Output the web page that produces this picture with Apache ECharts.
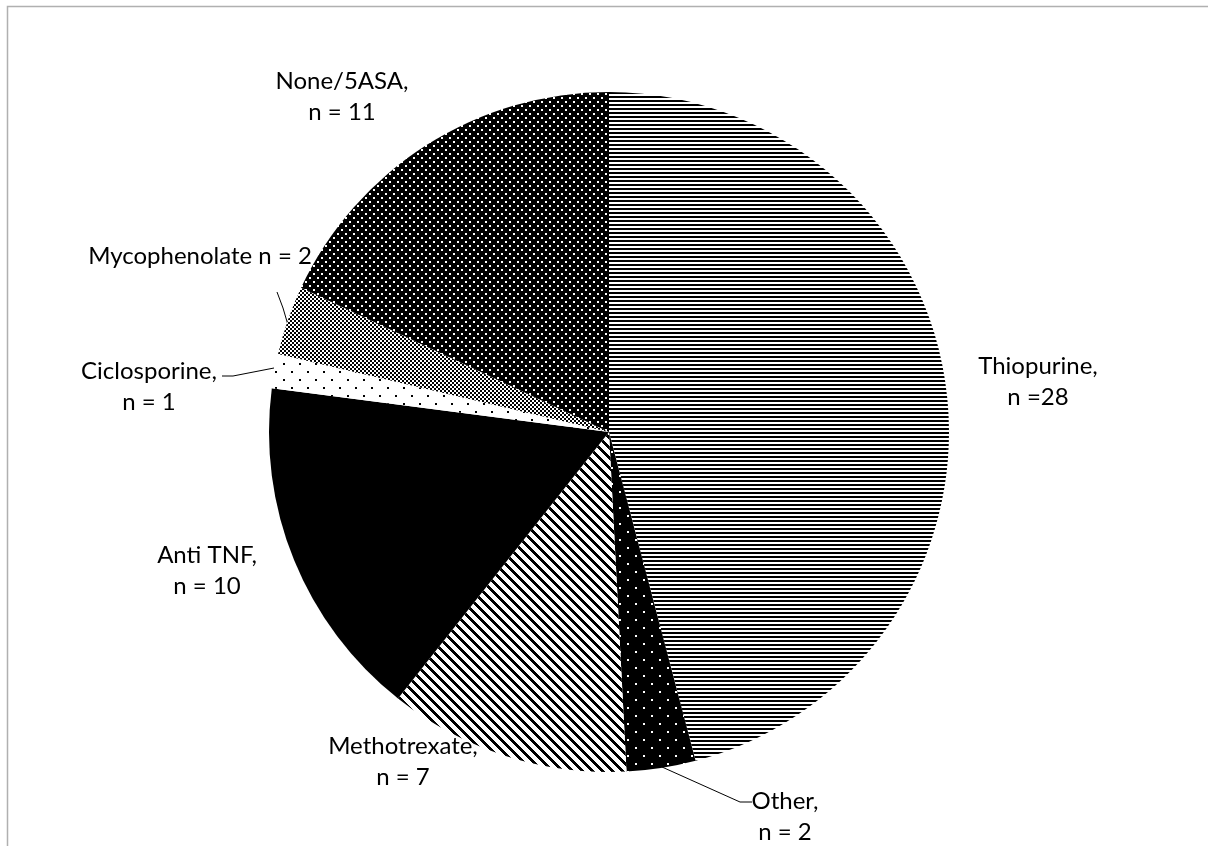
<!DOCTYPE html>
<html><head><meta charset="utf-8">
<script src="https://cdn.jsdelivr.net/npm/echarts@6/dist/echarts.min.js"></script>
<style>html,body{margin:0;padding:0;background:#fff}#c{width:1208px;height:846px}</style>
</head><body><div id="c"></div>
<script>
// ---- data ----
const categories = ['Thiopurine', 'Other', 'Methotrexate', 'Anti TNF', 'Ciclosporine', 'Mycophenolate', 'None/5ASA'];
const values = [28, 2, 7, 10, 1, 2, 11];
const labelTexts = ['Thiopurine,\nn =28', 'Other,\nn = 2', 'Methotrexate,\nn = 7', 'Anti TNF,\nn = 10', 'Ciclosporine,\nn = 1', 'Mycophenolate n = 2', 'None/5ASA,\nn = 11'];

// ---- label placement (layout, not data) ----
const labelPos = [[1038, 382], [785, 817], [403, 762], [207, 571], [149, 387], [200, 256], [342, 97]];
const leaderLines = {
  1: [[662, 767], [740, 802], [752, 802]],
  4: [[222, 376], [233, 376], [274, 368]],
  5: [[277, 292], [283, 308], [288, 325]]
};

// ---- patterns ----
function mk(w, h, draw) {
  const c = document.createElement('canvas'); c.width = w; c.height = h;
  const g = c.getContext('2d'); draw(g, w, h); return c;
}
const patHoriz = mk(4, 4, (g) => { g.fillStyle = '#fff'; g.fillRect(0, 0, 4, 4); g.fillStyle = '#000'; g.fillRect(0, 0, 4, 2); });
const patOther = mk(16, 16, (g) => { g.fillStyle = '#000'; g.fillRect(0, 0, 16, 16); g.fillStyle = '#fff'; g.fillRect(3, 3, 2, 2); g.fillRect(11, 11, 2, 2); });
const patDiag = mk(10, 10, (g) => {
  const id = g.createImageData(10, 10);
  for (let y = 0; y < 10; y++) for (let x = 0; x < 10; x++) {
    const k = ((x - y) % 10 + 10) % 10; const v = k < 4 ? 0 : 255; const i = (y * 10 + x) * 4;
    id.data[i] = id.data[i + 1] = id.data[i + 2] = v; id.data[i + 3] = 255;
  }
  g.putImageData(id, 0, 0);
});
const patCiclo = mk(16, 16, (g) => { g.fillStyle = '#fff'; g.fillRect(0, 0, 16, 16); g.fillStyle = '#000'; g.fillRect(3, 3, 2, 2); g.fillRect(11, 11, 2, 2); });
const patMyco = mk(4, 4, (g) => { g.fillStyle = '#000'; g.fillRect(0, 0, 4, 4); g.fillStyle = '#fff'; g.fillRect(0, 0, 2, 2); g.fillRect(2, 2, 2, 2); });
const patNone = mk(8, 8, (g) => { g.fillStyle = '#000'; g.fillRect(0, 0, 8, 8); g.fillStyle = '#fff'; g.fillRect(1, 1, 2, 2); g.fillRect(5, 5, 2, 2); });
const fills = [
  { image: patHoriz, repeat: 'repeat' },
  { image: patOther, repeat: 'repeat' },
  { image: patDiag, repeat: 'repeat' },
  '#000',
  { image: patCiclo, repeat: 'repeat' },
  { image: patMyco, repeat: 'repeat' },
  { image: patNone, repeat: 'repeat' }
];

const chart = echarts.init(document.getElementById('c'), null, { renderer: 'canvas' });
chart.setOption({
  animation: false,
  backgroundColor: '#fff',
  graphic: [{
    type: 'rect', shape: { x: 7.5, y: 6.5, width: 1300, height: 1000 },
    style: { fill: 'none', stroke: '#b0b0b0', lineWidth: 1.5 }, silent: true
  }],
  series: [{
    type: 'pie',
    center: [609, 432],
    radius: [0, 340],
    startAngle: 90,
    clockwise: true,
    avoidLabelOverlap: false,
    silent: true,
    itemStyle: { borderWidth: 0 },
    label: {
      show: true,
      color: '#000',
      fontFamily: 'Lato',
      fontSize: 24,
      lineHeight: 31,
      align: 'center',
      formatter: (p) => labelTexts[p.dataIndex]
    },
    labelLine: { show: true, lineStyle: { color: '#000', width: 1 } },
    labelLayout: (p) => {
      const i = p.dataIndex;
      const r = { x: labelPos[i][0], y: labelPos[i][1], align: 'center', verticalAlign: 'middle' };
      if (leaderLines[i]) r.labelLinePoints = leaderLines[i];
      return r;
    },
    data: categories.map((name, i) => ({
      name, value: values[i],
      itemStyle: { color: fills[i] },
      labelLine: { show: !!leaderLines[i] }
    }))
  }]
});
</script>
</body></html>
